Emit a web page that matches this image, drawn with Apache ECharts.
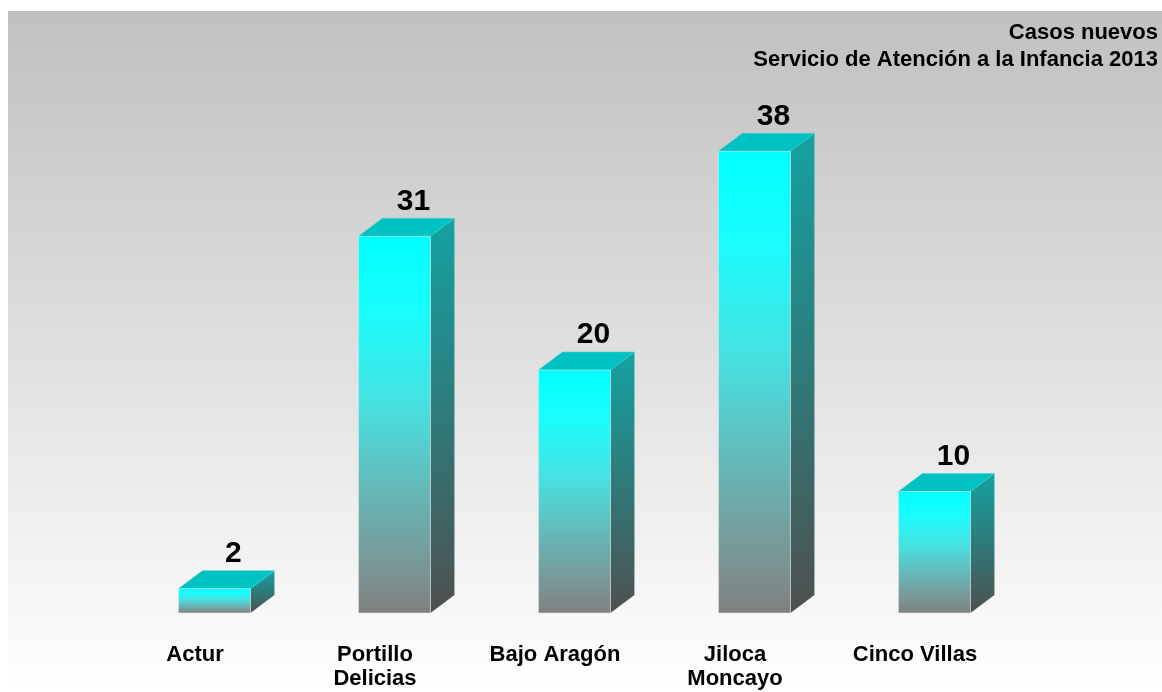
<!DOCTYPE html>
<html>
<head>
<meta charset="utf-8">
<script src="https://cdn.jsdelivr.net/npm/echarts@6/dist/echarts.min.js"></script>
<style>
  html, body { margin: 0; padding: 0; background: #ffffff; }
  #chart { width: 1162px; height: 692px; }
</style>
</head>
<body>
<div id="chart"></div>
<script>
// Centros del Servicio de Atención a la Infancia
const categories = ['Actur', 'Portillo\nDelicias', 'Bajo Aragón', 'Jiloca\nMoncayo', 'Cinco Villas'];
// Casos nuevos por centro
const casos = [2, 31, 20, 38, 10];
// Título en dos líneas
const titleLines = ['Casos nuevos', 'Servicio de Atención a la Infancia 2013'];

const FONT = '"Liberation Sans", Arial, Helvetica, sans-serif';
const chart = echarts.init(document.getElementById('chart'), null, { renderer: 'canvas' });

// Perspective offset for the depth faces of each column
const DEPTH_X = 24;
const DEPTH_Y = 18;

function renderColumn(params, api) {
  const idx = api.value(0);
  const val = api.value(1);
  const topPt = api.coord([idx, val]);
  const basePt = api.coord([idx, 0]);
  const band = api.size([1, 0])[0];
  const w = band * 0.4;
  const shift = band * 0.108;
  const xl = topPt[0] - w / 2 + shift;
  const xr = xl + w;
  const yt = topPt[1];
  const yb = basePt[1];

  const front = {
    type: 'rect',
    shape: { x: xl, y: yt, width: w, height: yb - yt },
    style: {
      fill: new echarts.graphic.LinearGradient(0, 0, 0, 1, [
        { offset: 0, color: '#00ffff' },
        { offset: 0.2, color: '#1afcfc' },
        { offset: 0.45, color: '#48e0e0' },
        { offset: 0.65, color: '#63bcbc' },
        { offset: 0.85, color: '#789a9a' },
        { offset: 1, color: '#808080' }
      ]),
      stroke: 'rgba(235,235,235,0.5)',
      lineWidth: 1
    }
  };
  const side = {
    type: 'polygon',
    shape: { points: [[xr, yt], [xr + DEPTH_X, yt - DEPTH_Y], [xr + DEPTH_X, yb - DEPTH_Y], [xr, yb]] },
    style: {
      fill: new echarts.graphic.LinearGradient(0, 0, 0, 1, [
        { offset: 0, color: '#14a2a2' },
        { offset: 0.5, color: '#2f7a7a' },
        { offset: 1, color: '#4f4f4f' }
      ])
    }
  };
  const lid = {
    type: 'polygon',
    shape: { points: [[xl, yt], [xl + DEPTH_X, yt - DEPTH_Y], [xr + DEPTH_X, yt - DEPTH_Y], [xr, yt]] },
    style: { fill: '#00c2c2', stroke: '#3fd0d0', lineWidth: 0.6 }
  };
  const label = {
    type: 'text',
    style: {
      text: String(casos[idx]),
      x: (xl + xr) / 2 + 19,
      y: yt - DEPTH_Y - 17,
      align: 'center',
      verticalAlign: 'middle',
      fontFamily: FONT,
      fontWeight: 'bold',
      fontSize: 30,
      fill: '#000000'
    }
  };
  return { type: 'group', children: [side, lid, front, label] };
}

chart.setOption({
  animation: false,
  backgroundColor: '#ffffff',
  graphic: [{
    type: 'rect',
    z: -100,
    silent: true,
    shape: { x: 8, y: 11, width: 1154, height: 681 },
    style: {
      fill: new echarts.graphic.LinearGradient(0, 0, 0, 1, [
        { offset: 0, color: '#c0c0c0' },
        { offset: 1, color: '#ffffff' }
      ])
    }
  }, {
    type: 'text',
    silent: true,
    z: 10,
    x: 1158,
    y: 19,
    style: {
      text: titleLines.join('\n'),
      align: 'right',
      verticalAlign: 'top',
      fontFamily: FONT,
      fontWeight: 'bold',
      fontSize: 22,
      lineHeight: 27,
      fill: '#000000'
    }
  }],
  grid: { left: 105, width: 900, top: 127, bottom: 79 },
  xAxis: {
    type: 'category',
    data: categories,
    axisLine: { show: false },
    axisTick: { show: false },
    splitLine: { show: false },
    axisLabel: {
      interval: 0,
      margin: 30,
      fontFamily: FONT,
      fontWeight: 'bold',
      fontSize: 22,
      lineHeight: 24,
      color: '#000000'
    }
  },
  yAxis: {
    type: 'value',
    min: 0,
    max: 40,
    show: false,
    splitLine: { show: false }
  },
  series: [{
    type: 'custom',
    renderItem: renderColumn,
    clip: false,
    data: casos.map((v, i) => [i, v]),
    encode: { x: 0, y: 1 }
  }]
});
</script>
</body>
</html>
